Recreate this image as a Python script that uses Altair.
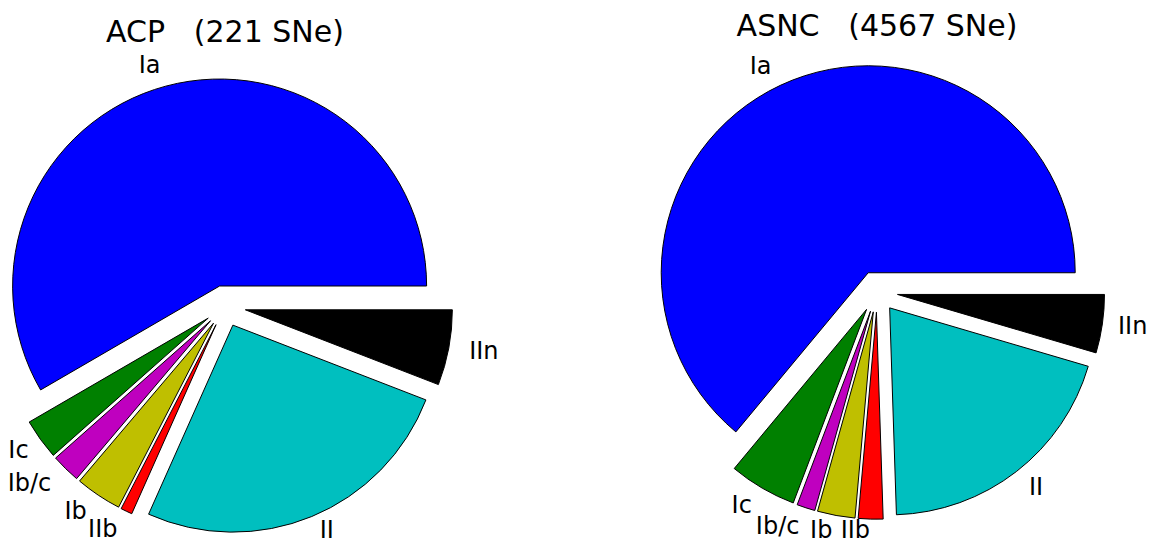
import altair as alt
import pandas as pd

# ---- data ----
types = ["Ia", "Ic", "Ib/c", "Ib", "IIb", "II", "IIn"]
acp_counts = [129, 7, 5, 8, 2, 57, 13]            # ACP (221 SNe)
asnc_counts = [2921, 241, 65, 134, 88, 910, 208]  # ASNC (4567 SNe)
colors = ["#0000ff", "#008000", "#bf00bf", "#bfbf00", "#ff0000", "#00bfbf", "#000000"]
NB = "\u00a0"
titles = [f"ACP{NB}{NB} (221 SNe)", f"ASNC{NB}{NB} (4567 SNe)"]

# ---- layout / style ----
W, H = 1141, 536   # drawing area in px
R = 207            # pie radius in px
EXPLODE = 0.1      # fraction of radius
LABEL_DIST = 1.1   # matplotlib-like label distance
FONT = "DejaVu Sans"
LABEL_SIZE = 24
TITLE_SIZE = 30
CHAR_W = 0.43      # rough glyph width (em) used to keep labels inside the page


def pie_layers(counts, title, cx, cy, title_y):
    """All layers of one exploded pie; (cx, cy) = pie centre in px of the drawing area."""
    df = pd.DataFrame({"type": types, "count": counts, "order": list(range(len(types)))})
    xmin, xmax = -cx / R, (W - cx) / R
    ymin, ymax = -(H - cy) / R, cy / R
    xs = alt.Scale(domain=[xmin, xmax], nice=False, zero=False)
    ys = alt.Scale(domain=[ymin, ymax], nice=False, zero=False)
    wchar = CHAR_W * LABEL_SIZE / R
    ypad = (0.54 * LABEL_SIZE + 0.5) / R

    base = (
        alt.Chart(df)
        .transform_joinaggregate(total="sum(count)")
        .transform_window(cum="sum(count)", sort=[alt.SortField("order")])
        .transform_calculate(phi0="2*PI*(datum.cum - datum.count)/datum.total")
        .transform_calculate(phi1="2*PI*datum.cum/datum.total")
        .transform_calculate(mid="(datum.phi0 + datum.phi1)/2")
        .transform_calculate(th0="5*PI/2 - datum.phi1")
        .transform_calculate(th1="5*PI/2 - datum.phi0")
        .transform_calculate(ex=f"{EXPLODE}*cos(datum.mid)")
        .transform_calculate(ey=f"{EXPLODE}*sin(datum.mid)")
        .transform_calculate(lx=f"{EXPLODE + LABEL_DIST}*cos(datum.mid)")
        .transform_calculate(ly=f"{EXPLODE + LABEL_DIST}*sin(datum.mid)")
        .transform_calculate(lxr=f"max(datum.lx, {xmin} + length(datum.type)*{wchar})")
        .transform_calculate(lxl=f"min(datum.lx, {xmax} - length(datum.type)*{wchar})")
        .transform_calculate(lyc=f"max(datum.ly, {ymin} + {ypad})")
    )

    arcs = base.mark_arc(radius=R, stroke="black", strokeWidth=1).encode(
        x=alt.X("ex:Q", scale=xs, axis=None),
        y=alt.Y("ey:Q", scale=ys, axis=None),
        theta=alt.Theta("th0:Q", scale=None, stack=False),
        theta2="th1:Q",
        color=alt.Color("type:N", scale=alt.Scale(domain=types, range=colors), legend=None),
    )

    lab_left = base.transform_filter("datum.lx < 0").mark_text(
        align="right", baseline="middle", font=FONT, fontSize=LABEL_SIZE, color="black"
    ).encode(
        x=alt.X("lxr:Q", scale=xs, axis=None),
        y=alt.Y("lyc:Q", scale=ys, axis=None),
        text="type:N",
    )
    lab_right = base.transform_filter("datum.lx >= 0").mark_text(
        align="left", baseline="middle", font=FONT, fontSize=LABEL_SIZE, color="black"
    ).encode(
        x=alt.X("lxl:Q", scale=xs, axis=None),
        y=alt.Y("lyc:Q", scale=ys, axis=None),
        text="type:N",
    )

    ttl = alt.Chart(pd.DataFrame({"t": [title]})).mark_text(
        align="center", baseline="alphabetic", font=FONT, fontSize=TITLE_SIZE, color="black"
    ).encode(
        x=alt.XDatum(0, scale=xs, axis=None),
        y=alt.YDatum(title_y, scale=ys, axis=None),
        text="t:N",
    )
    return [arcs, lab_left, lab_right, ttl]


layers = pie_layers(acp_counts, titles[0], 217, 298, 1.275) + \
         pie_layers(asnc_counts, titles[1], 869, 283.5, 1.234)

chart = (
    alt.layer(*layers)
    .resolve_scale(x="independent", y="independent")
    .properties(
        width=W, height=H, padding=0, background="white",
        autosize=alt.AutoSizeParams(type="none"),
    )
    .configure_view(stroke=None)
)

chart.save("out.html", embed_options={"renderer": "svg", "actions": False})
